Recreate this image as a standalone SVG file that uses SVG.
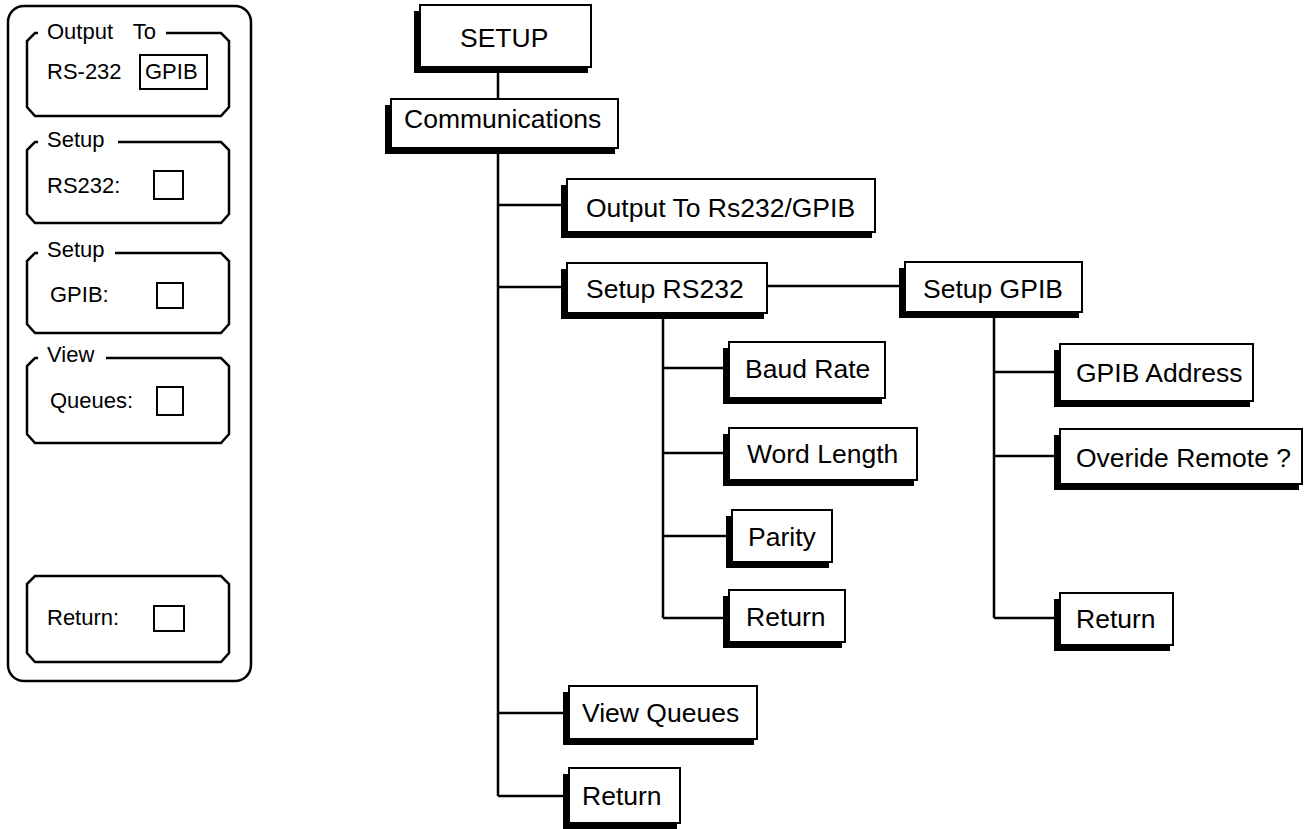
<svg xmlns="http://www.w3.org/2000/svg" width="1305" height="829" viewBox="0 0 1305 829">
<style>
.sh{fill:#000}
.bx{fill:#fff;stroke:#000;stroke-width:2}
.t{font-family:"Liberation Sans",Arial,sans-serif;font-size:26.5px;fill:#000}
.s{font-family:"Liberation Sans",Arial,sans-serif;font-size:22px;fill:#000}
.ln{stroke:#000;stroke-width:2.5;fill:none}
.pn{stroke:#000;stroke-width:2.5;fill:none;stroke-linejoin:miter}
.cb{fill:#fff;stroke:#000;stroke-width:2}
</style>
<rect width="1305" height="829" fill="#fff"/>
<g id="panel">
<rect x="8" y="6" width="243" height="675" rx="16" ry="16" fill="#fff" stroke="#000" stroke-width="2.5"/>
<g id="p-output">
<path class="pn" d="M38 33 L35 33 L27 41 L27 107 L35 116 L221 116 L229 107 L229 41 L221 33 L166 33"/>
<text class="s" x="47" y="39" word-spacing="14">Output To</text>
<text class="s" x="47" y="79">RS-232</text>
<rect class="cb" x="140" y="55" width="67" height="34"/>
<text class="s" x="145" y="79">GPIB</text>
</g>
<g id="p-rs232">
<path class="pn" d="M38 142 L35 142 L27 150 L27 214 L35 223 L221 223 L229 214 L229 150 L221 142 L118 142"/>
<text class="s" x="47" y="147">Setup</text>
<text class="s" x="47" y="193">RS232:</text>
<rect class="cb" x="154" y="171" width="29" height="28"/>
</g>
<g id="p-gpib">
<path class="pn" d="M38 253 L35 253 L27 261 L27 324 L35 333 L221 333 L229 324 L229 261 L221 253 L115 253"/>
<text class="s" x="47" y="257">Setup</text>
<text class="s" x="50" y="302">GPIB:</text>
<rect class="cb" x="157" y="283" width="26" height="25"/>
</g>
<g id="p-queues">
<path class="pn" d="M38 358 L35 358 L27 366 L27 434 L35 443 L221 443 L229 434 L229 366 L221 358 L106 358"/>
<text class="s" x="47" y="362">View</text>
<text class="s" x="50" y="408">Queues:</text>
<rect class="cb" x="157" y="387" width="26" height="28"/>
</g>
<g id="p-return">
<path class="pn" d="M35 576 L27 584 L27 653 L35 662 L221 662 L229 653 L229 584 L221 576 Z"/>
<text class="s" x="47" y="625">Return:</text>
<rect class="cb" x="154" y="606" width="30" height="25"/>
</g>
</g>
<g id="connectors">
<path class="ln" d="M498 67 V99"/>
<path class="ln" d="M498 148 V796"/>
<path class="ln" d="M498 205 H567"/>
<path class="ln" d="M498 287 H567"/>
<path class="ln" d="M498 713 H569"/>
<path class="ln" d="M498 796 H569"/>
<path class="ln" d="M767 286 H905"/>
<path class="ln" d="M663 313 V618"/>
<path class="ln" d="M663 368 H729"/>
<path class="ln" d="M663 453 H729"/>
<path class="ln" d="M663 536 H732"/>
<path class="ln" d="M663 618 H729"/>
<path class="ln" d="M994 313 V618"/>
<path class="ln" d="M994 372 H1060"/>
<path class="ln" d="M994 456 H1060"/>
<path class="ln" d="M994 618 H1060"/>
</g>
<g id="n-setup">
<rect class="sh" x="414" y="11" width="174" height="62"/>
<rect class="bx" x="420" y="5" width="171" height="62"/>
<text class="t" x="460" y="47">SETUP</text>
</g>
<g id="n-comm">
<rect class="sh" x="385" y="105" width="230" height="49"/>
<rect class="bx" x="391" y="99" width="227" height="49"/>
<text class="t" x="404" y="128">Communications</text>
</g>
<g id="n-output">
<rect class="sh" x="561" y="185" width="311" height="53"/>
<rect class="bx" x="567" y="179" width="308" height="53"/>
<text class="t" x="586" y="217">Output To Rs232/GPIB</text>
</g>
<g id="n-setuprs">
<rect class="sh" x="561" y="269" width="203" height="50"/>
<rect class="bx" x="567" y="263" width="200" height="50"/>
<text class="t" x="586" y="298">Setup RS232</text>
</g>
<g id="n-setupgpib">
<rect class="sh" x="899" y="268" width="180" height="50"/>
<rect class="bx" x="905" y="262" width="177" height="50"/>
<text class="t" x="923" y="298">Setup GPIB</text>
</g>
<g id="n-baud">
<rect class="sh" x="723" y="348" width="159" height="56"/>
<rect class="bx" x="729" y="342" width="156" height="56"/>
<text class="t" x="745" y="378">Baud Rate</text>
</g>
<g id="n-word">
<rect class="sh" x="723" y="434" width="191" height="52"/>
<rect class="bx" x="729" y="428" width="188" height="52"/>
<text class="t" x="747" y="463">Word Length</text>
</g>
<g id="n-parity">
<rect class="sh" x="726" y="516" width="103" height="52"/>
<rect class="bx" x="732" y="510" width="100" height="52"/>
<text class="t" x="748" y="546">Parity</text>
</g>
<g id="n-return1">
<rect class="sh" x="723" y="596" width="119" height="52"/>
<rect class="bx" x="729" y="590" width="116" height="52"/>
<text class="t" x="746" y="626">Return</text>
</g>
<g id="n-gpibaddr">
<rect class="sh" x="1054" y="350" width="196" height="57"/>
<rect class="bx" x="1060" y="344" width="193" height="57"/>
<text class="t" x="1076" y="382">GPIB Address</text>
</g>
<g id="n-override">
<rect class="sh" x="1054" y="435" width="245" height="55"/>
<rect class="bx" x="1060" y="429" width="242" height="55"/>
<text class="t" x="1076" y="467">Overide Remote ?</text>
</g>
<g id="n-return2">
<rect class="sh" x="1054" y="599" width="116" height="52"/>
<rect class="bx" x="1060" y="593" width="113" height="52"/>
<text class="t" x="1076" y="628">Return</text>
</g>
<g id="n-queues">
<rect class="sh" x="563" y="692" width="191" height="53"/>
<rect class="bx" x="569" y="686" width="188" height="53"/>
<text class="t" x="582" y="722">View Queues</text>
</g>
<g id="n-return3">
<rect class="sh" x="563" y="774" width="114" height="55"/>
<rect class="bx" x="569" y="768" width="111" height="55"/>
<text class="t" x="582" y="805">Return</text>
</g>
</svg>
